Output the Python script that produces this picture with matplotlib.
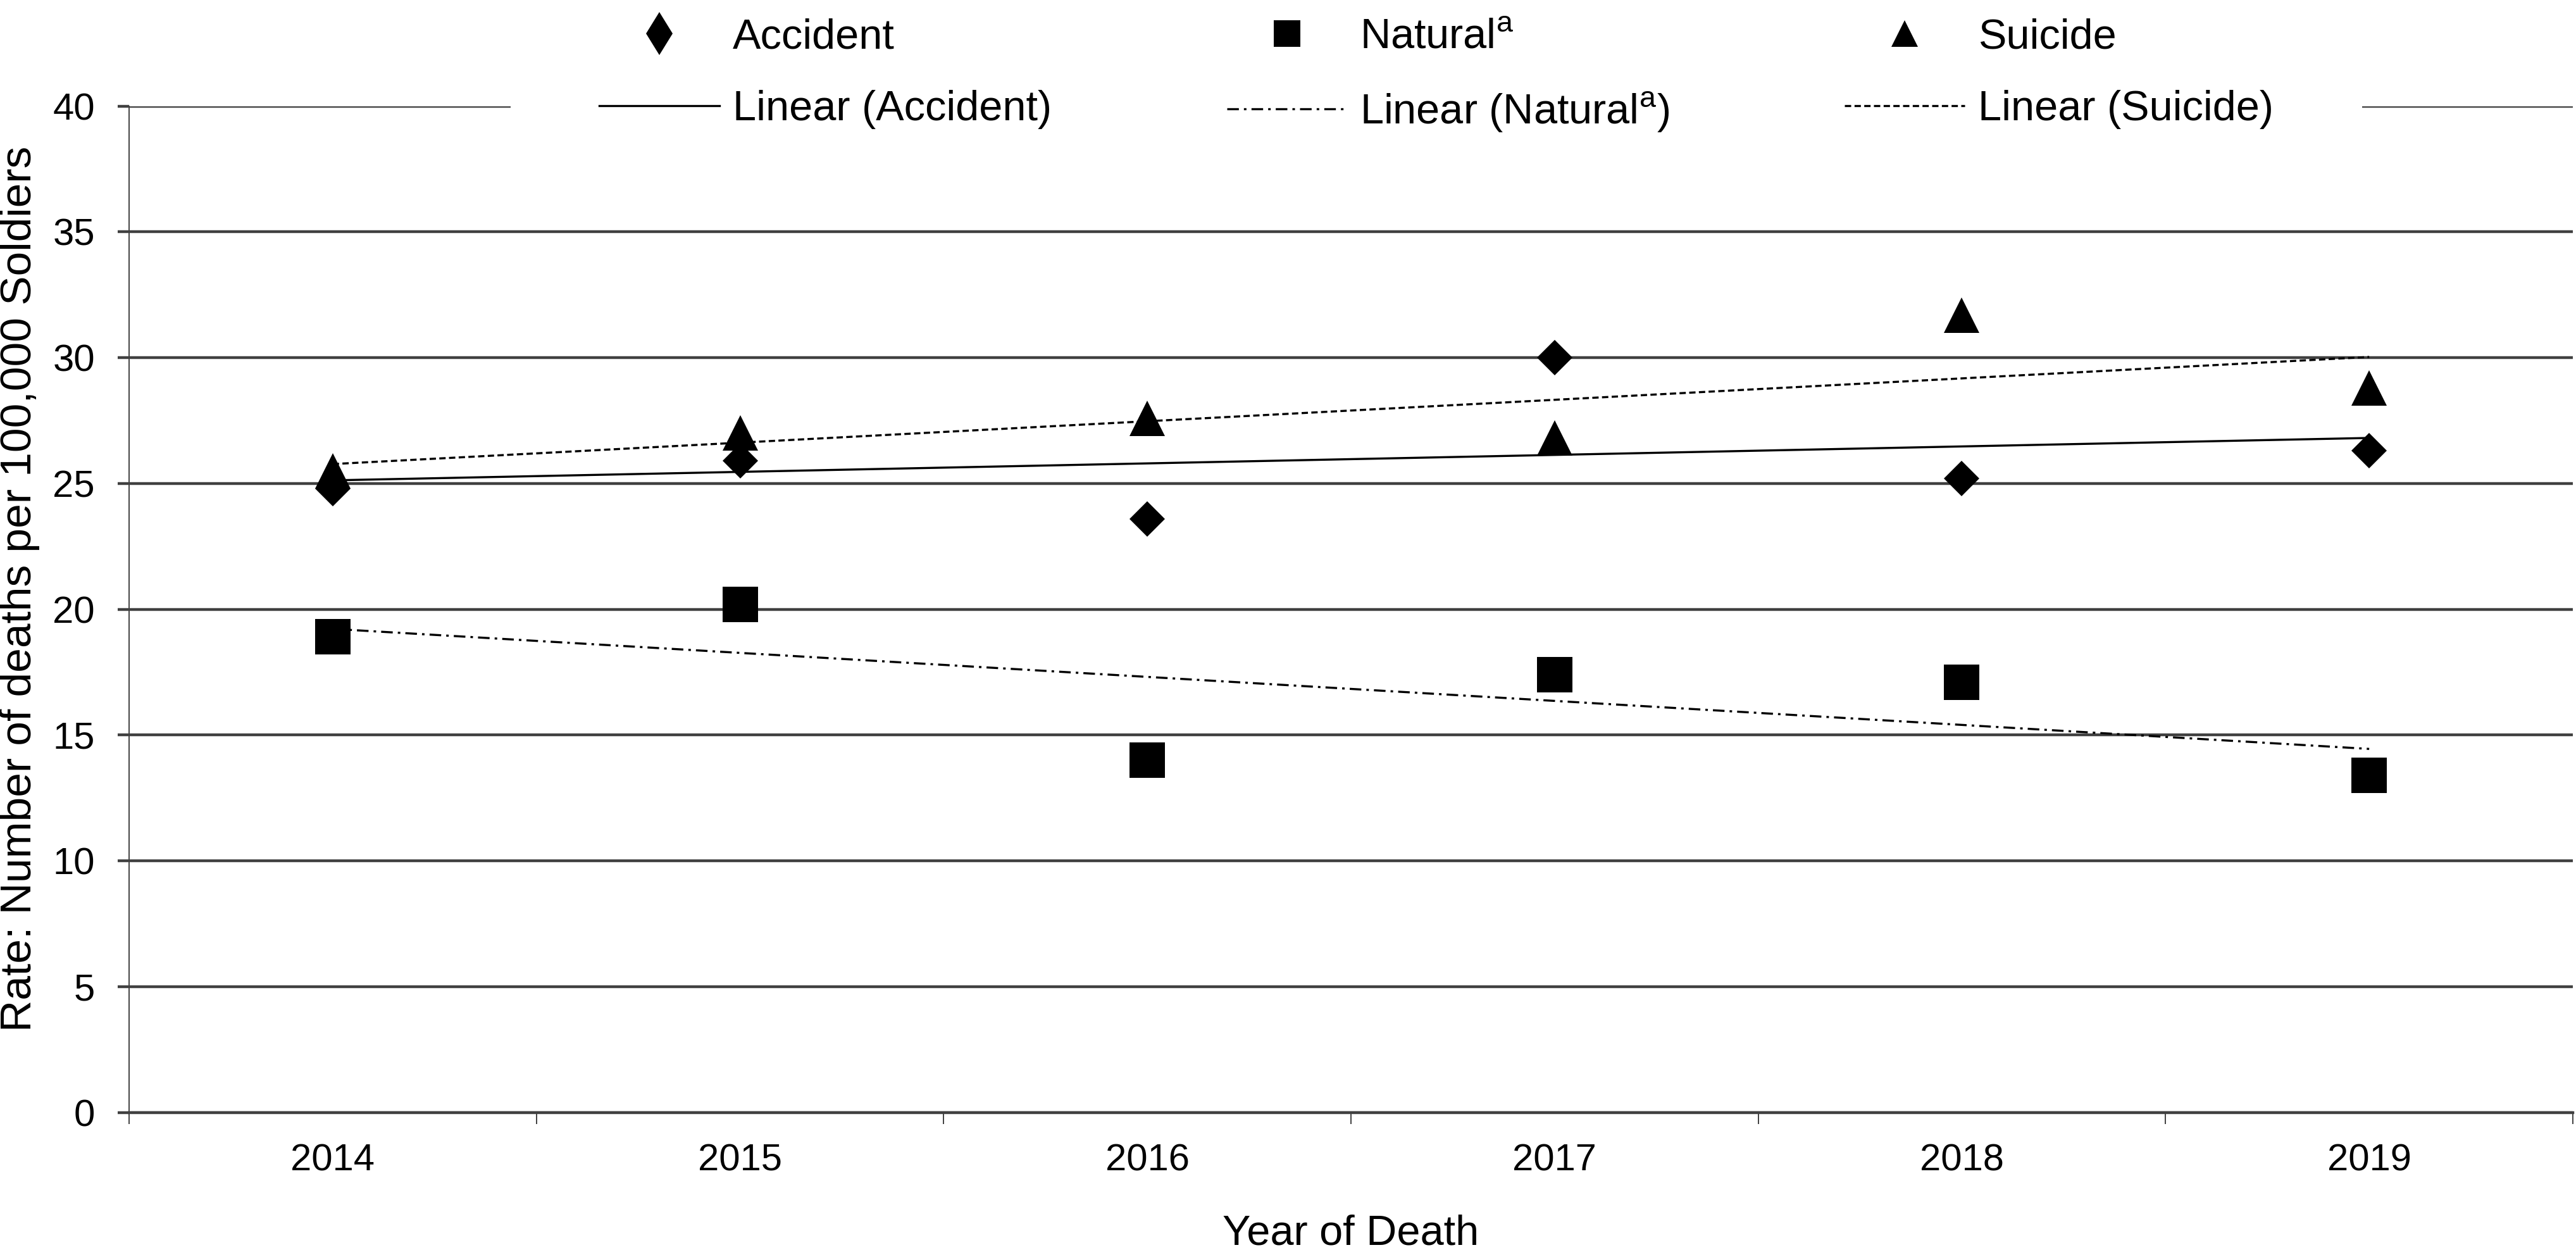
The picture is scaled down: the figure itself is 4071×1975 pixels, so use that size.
import numpy as np
import matplotlib
matplotlib.use('Agg')
import matplotlib.pyplot as plt
from matplotlib.lines import Line2D

plt.rcParams['font.family'] = ['Liberation Sans', 'DejaVu Sans']
plt.rcParams['mathtext.fontset'] = 'custom'
plt.rcParams['mathtext.rm'] = 'Liberation Sans'

# Данные
years = ['2014', '2015', '2016', '2017', '2018', '2019']
accident = [24.8, 25.9, 23.6, 30.0, 25.2, 26.3]
natural = [18.9, 20.2, 14.0, 17.4, 17.1, 13.4]
suicide = [25.5, 27.0, 27.6, 26.8, 31.7, 28.8]

grid_color = '#404040'
x = np.arange(1, len(years) + 1)

fig = plt.figure(figsize=(40.71, 19.75), dpi=100)
ax = fig.add_axes([204 / 4071, 217.5 / 1975, (4066 - 204) / 4071, (1757.5 - 167.7) / 1975])

# Сетка
ax.set_ylim(0, 40)
ax.set_xlim(0.5, 6.5)
ax.set_yticks(np.arange(0, 41, 5))
ax.yaxis.grid(True, color=grid_color, linewidth=3.2)
ax.set_axisbelow(True)

# Линии тренда
dash_suicide = (0, (3.0, 1.6))
dash_natural = (0, (5.5, 2.4, 1.2, 2.4))
for vals, ls in [(accident, '-'), (natural, dash_natural), (suicide, dash_suicide)]:
    k, b = np.polyfit(x, vals, 1)
    ax.plot(x, k * x + b, color='black', linewidth=2.4, linestyle=ls, zorder=3)

# Точки
ax.plot(x, accident, linestyle='none', marker='D', markersize=28.5, color='black', mew=0, zorder=4)
ax.plot(x, natural, linestyle='none', marker='s', markersize=40, color='black', mew=0, zorder=4)
ax.plot(x, suicide, linestyle='none', marker='^', markersize=40, color='black', mew=0, zorder=4)

# Оси
for s in ['top', 'right']:
    ax.spines[s].set_visible(False)
ax.spines['left'].set_color(grid_color)
ax.spines['left'].set_linewidth(1.4)
ax.spines['bottom'].set_color(grid_color)
ax.spines['bottom'].set_linewidth(3.2)

ax.tick_params(axis='y', which='major', length=13, width=3.2, color=grid_color,
               labelsize=43, pad=26)
ax.set_xticks(np.arange(0.5, 7, 1))
ax.set_xticklabels([])
ax.tick_params(axis='x', which='major', length=13, width=1.4, color=grid_color)
ax.set_xticks(x, minor=True)
ax.set_xticklabels(years, minor=True)
ax.tick_params(axis='x', which='minor', length=0, labelsize=43, pad=35)

ax.set_xlabel('Year of Death', fontsize=48)
ax.xaxis.label.set_va('center')
ax.xaxis.set_label_coords(0.5, -0.121)
ax.set_ylabel('Rate: Number of deaths per 100,000 Soldiers', fontsize=50)
ax.yaxis.label.set_va('center')
ax.yaxis.set_label_coords(-0.0448, 0.52)

# Легенда
handles = [
    Line2D([], [], linestyle='none', marker='d', markersize=35, color='black', mew=0),
    Line2D([], [], color='black', linewidth=2.4, linestyle='-'),
    Line2D([], [], linestyle='none', marker='s', markersize=30, color='black', mew=0),
    Line2D([], [], color='black', linewidth=2.4, linestyle=dash_natural),
    Line2D([], [], linestyle='none', marker='^', markersize=30, color='black', mew=0),
    Line2D([], [], color='black', linewidth=2.4, linestyle=dash_suicide),
]
labels = ['Accident', 'Linear (Accident)',
          r'Natural$^{\mathrm{a}}$', r'Linear (Natural$^{\mathrm{a}}$)',
          'Suicide', 'Linear (Suicide)']
leg = fig.legend(handles, labels, ncol=3, loc='center',
                 bbox_to_anchor=(2270 / 4071, 1 - 120 / 1975),
                 bbox_transform=fig.transFigure,
                 fontsize=48, frameon=True, fancybox=False, framealpha=1,
                 facecolor='white', edgecolor='none',
                 handlelength=2.85, handletextpad=0.31, columnspacing=4.15,
                 labelspacing=0.78, borderpad=2.1, numpoints=1)

fig.savefig('out.png', dpi=100)
